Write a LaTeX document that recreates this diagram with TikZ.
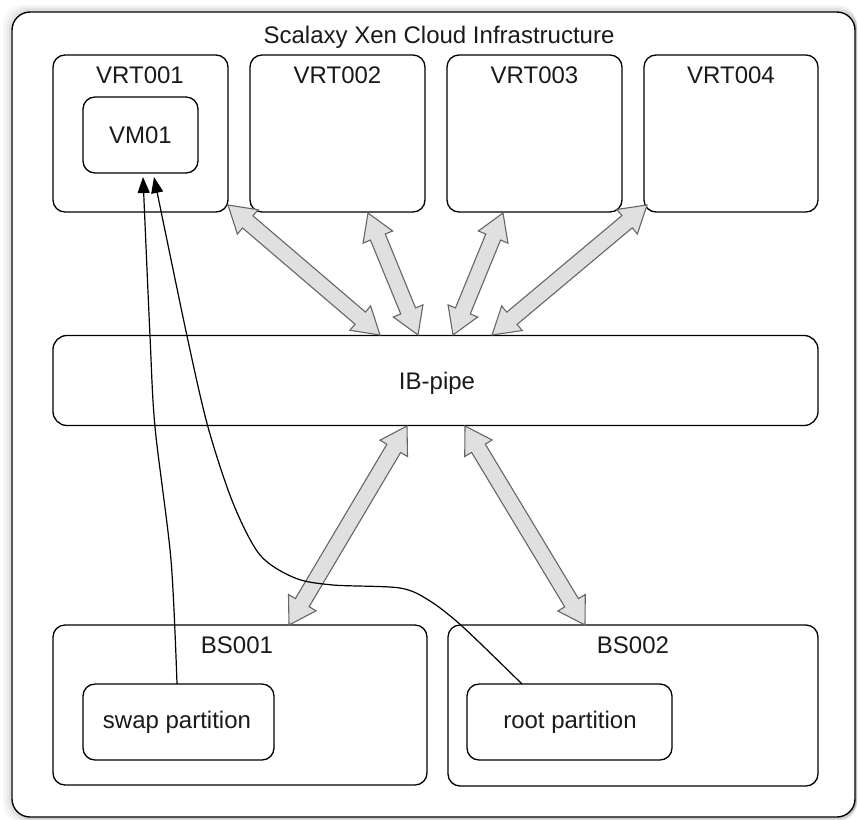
\documentclass[tikz,border=0pt]{standalone}
\usepackage{fontspec}
\setmainfont{Liberation Sans}
\usetikzlibrary{calc,arrows.meta}
\definecolor{arrfill}{HTML}{E0E0E0}
\definecolor{arrline}{HTML}{666666}
\definecolor{txt}{HTML}{1A1A1A}
\tikzset{
  box/.style={draw, rounded corners=12pt, line width=1.3pt, inner sep=0pt},
  outerbox/.style={draw, rounded corners=18pt, line width=1.4pt, inner sep=0pt},
  lbl/.style={anchor=base, text=txt, inner sep=0pt, font=\fontsize{24}{28}\selectfont},
  conn/.style={line width=1.2pt, -{Triangle[length=16pt,width=12pt]}},
  blk/.style={fill=arrfill, draw=arrline, line width=1.1pt, line join=miter}
}
\newcommand{\blockarrow}[2]{%
  \filldraw[blk] (#1)
    -- ($(#1)!26pt!(#2)!16pt!90:(#2)$)
    -- ($(#1)!26pt!(#2)!8pt!90:(#2)$)
    -- ($(#2)!26pt!(#1)!8pt!-90:(#1)$)
    -- ($(#2)!26pt!(#1)!16pt!-90:(#1)$)
    -- (#2)
    -- ($(#2)!26pt!(#1)!16pt!90:(#1)$)
    -- ($(#2)!26pt!(#1)!8pt!90:(#1)$)
    -- ($(#1)!26pt!(#2)!8pt!-90:(#2)$)
    -- ($(#1)!26pt!(#2)!16pt!-90:(#2)$)
    -- cycle;}
\begin{document}
\begin{tikzpicture}[x=1pt,y=-1pt]
\useasboundingbox (0,0) rectangle (858,819);
% soft shadow
\foreach \i/\o in {1/0.12,2/0.08,3/0.05,4/0.03}{
  \draw[black, opacity=\o, line width=2pt, rounded corners=18pt]
    (12-2*\i,12-1.5*\i) rectangle (856,817+1*\i);
}
\node[outerbox, fill=white, minimum width=843, minimum height=805] (outer) at (433.5,414.5) {};
\node[lbl] (title) at (439,43) {Scalaxy Xen Cloud Infrastructure};

\node[box, minimum width=175, minimum height=157] (v1) at (140.5,133.5) {};
\node[box, minimum width=175, minimum height=157] (v2) at (337.5,133.5) {};
\node[box, minimum width=175, minimum height=157] (v3) at (534.5,133.5) {};
\node[box, minimum width=174, minimum height=157] (v4) at (731,133.5) {};
\node[lbl] (t1) at (140,83) {VRT001};
\node[lbl] (t2) at (337.5,83) {VRT002};
\node[lbl] (t3) at (534.5,83) {VRT003};
\node[lbl] (t4) at (731,83) {VRT004};

\node[box, minimum width=115, minimum height=76] (vm) at (140.5,135) {};
\node[lbl] (tvm) at (140.5,143) {VM01};

\node[box, rounded corners=14pt, minimum width=765, minimum height=90] (ib) at (435.5,380.5) {};
\node[lbl] (tib) at (437,389) {IB-pipe};

\node[box, minimum width=374, minimum height=160] (bs1) at (240,705) {};
\node[box, minimum width=370, minimum height=161] (bs2) at (633,705.5) {};
\node[lbl] (tb1) at (237,653) {BS001};
\node[lbl] (tb2) at (633,653) {BS002};

\node[box, minimum width=191, minimum height=76] (swap) at (178.5,722) {};
\node[box, minimum width=205, minimum height=76] (root) at (569.5,722) {};
\node[lbl] (tsw) at (177,728) {swap partition};
\node[lbl] (trt) at (570,728) {root partition};

% block arrow end points
\coordinate (a1s) at (228,205); \coordinate (a1e) at (380,335);
\coordinate (a2s) at (368,213); \coordinate (a2e) at (418,335);
\coordinate (a3s) at (503,213); \coordinate (a3e) at (453,335);
\coordinate (a4s) at (647,205); \coordinate (a4e) at (492,335);
\coordinate (a5s) at (407,426); \coordinate (a5e) at (289,625);
\coordinate (a6s) at (465,426); \coordinate (a6e) at (585,625);
\blockarrow{a1s}{a1e}
\blockarrow{a2s}{a2e}
\blockarrow{a3s}{a3e}
\blockarrow{a4s}{a4e}
\blockarrow{a5s}{a5e}
\blockarrow{a6s}{a6e}

% black connectors
\coordinate (sw0) at (177,684);
\coordinate (vmA) at (143,177);
\coordinate (rt0) at (522,684);
\coordinate (vmB) at (154,177);
\draw[conn] plot[smooth, tension=0.5] coordinates {(sw0) (171,560) (155,427) (150,336) (vmA)};
\draw[conn] plot[smooth, tension=0.5] coordinates {(rt0) (463,627) (430,601) (400,588) (333,585) (295,578) (260,555) (233,503) (208,427) (187,336) (vmB)};
\end{tikzpicture}
\end{document}
